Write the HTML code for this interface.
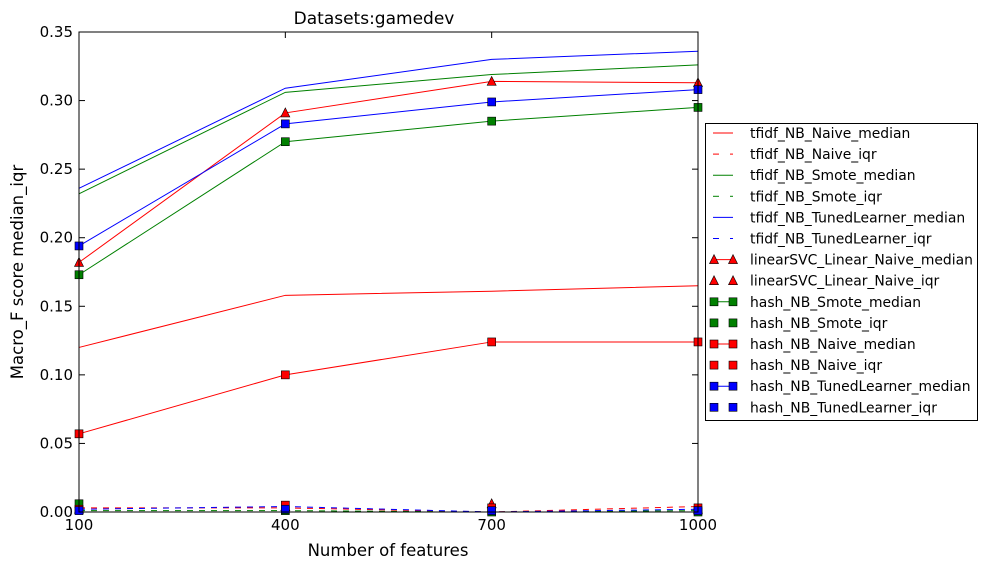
<!DOCTYPE html>
<html><head><meta charset="utf-8"><style>
body{margin:0;background:#fff;}
svg{display:block;font-family:"DejaVu Sans","Liberation Sans",sans-serif;}
</style></head><body>
<svg id="chart" width="988" height="570"></svg>
<script>
const categories=[100,400,700,1000];
const tfidfNaiveMed=[0.120,0.158,0.161,0.165];
const tfidfNaiveIqr=[0.003,0.003,0.000,0.004];
const tfidfSmoteMed=[0.232,0.306,0.319,0.326];
const tfidfSmoteIqr=[0.001,0.001,0.000,0.001];
const tfidfTunedMed=[0.236,0.309,0.330,0.336];
const tfidfTunedIqr=[0.002,0.004,0.000,0.002];
const svcNaiveMed=[0.182,0.291,0.314,0.313];
const svcNaiveIqr=[0.002,0.004,0.006,0.002];
const hashSmoteMed=[0.173,0.270,0.285,0.295];
const hashSmoteIqr=[0.006,0.001,0.000,0.000];
const hashNaiveMed=[0.057,0.100,0.124,0.124];
const hashNaiveIqr=[0.002,0.005,0.003,0.003];
const hashTunedMed=[0.194,0.283,0.299,0.308];
const hashTunedIqr=[0.001,0.002,0.001,0.001];
const yTicks=[0,0.05,0.10,0.15,0.20,0.25,0.30,0.35];
const yTickLabels=["0.00","0.05","0.10","0.15","0.20","0.25","0.30","0.35"];

const NS="http://www.w3.org/2000/svg";
const svg=document.getElementById('chart');
const L=79,R=698,T=32,B=512;
const xs=v=>L+(v-100)/900*(R-L);
const ys=v=>B-v/0.35*(B-T);
function mk(tag,attrs,parent){const e=document.createElementNS(NS,tag);for(const k in attrs)e.setAttribute(k,attrs[k]);(parent||svg).appendChild(e);return e;}

const series=[
 {name:"tfidf_NB_Naive_median",d:tfidfNaiveMed,c:"#ff0000",ls:"solid",m:null},
 {name:"tfidf_NB_Naive_iqr",d:tfidfNaiveIqr,c:"#ff0000",ls:"dash",m:null},
 {name:"tfidf_NB_Smote_median",d:tfidfSmoteMed,c:"#008000",ls:"solid",m:null},
 {name:"tfidf_NB_Smote_iqr",d:tfidfSmoteIqr,c:"#008000",ls:"dash",m:null},
 {name:"tfidf_NB_TunedLearner_median",d:tfidfTunedMed,c:"#0000ff",ls:"solid",m:null},
 {name:"tfidf_NB_TunedLearner_iqr",d:tfidfTunedIqr,c:"#0000ff",ls:"dash",m:null},
 {name:"linearSVC_Linear_Naive_median",d:svcNaiveMed,c:"#ff0000",ls:"solid",m:"tri"},
 {name:"linearSVC_Linear_Naive_iqr",d:svcNaiveIqr,c:"#ff0000",ls:"none",m:"tri"},
 {name:"hash_NB_Smote_median",d:hashSmoteMed,c:"#008000",ls:"solid",m:"sq"},
 {name:"hash_NB_Smote_iqr",d:hashSmoteIqr,c:"#008000",ls:"none",m:"sq"},
 {name:"hash_NB_Naive_median",d:hashNaiveMed,c:"#ff0000",ls:"solid",m:"sq"},
 {name:"hash_NB_Naive_iqr",d:hashNaiveIqr,c:"#ff0000",ls:"none",m:"sq"},
 {name:"hash_NB_TunedLearner_median",d:hashTunedMed,c:"#0000ff",ls:"solid",m:"sq"},
 {name:"hash_NB_TunedLearner_iqr",d:hashTunedIqr,c:"#0000ff",ls:"none",m:"sq"}
];
function marker(type,x,y,c,g){
  if(type==="tri"){return mk('polygon',{points:`${x},${y-5} ${x-4.5},${y+4} ${x+4.5},${y+4}`,fill:c,stroke:"#000","stroke-width":0.6},g);}
  if(type==="sq"){return mk('rect',{x:x-4,y:y-4,width:8,height:8,fill:c,stroke:"#000","stroke-width":0.6},g);}
}
const clip=mk('clipPath',{id:'pc'});mk('rect',{x:L-6,y:T-6,width:R-L+12,height:B-T+12},clip);

yTicks.forEach((v,i)=>{
  const y=ys(v);
  const t=mk('line',{x1:L,x2:L+6,y1:y,y2:y,stroke:"#000"});
  
  mk('line',{x1:R,x2:R-6,y1:y,y2:y,stroke:"#000"});
  const tx=mk('text',{x:L-6,y:y+5,"text-anchor":"end","font-size":15});tx.textContent=yTickLabels[i];
  
});
categories.forEach(c=>{
  const x=xs(c);
  mk('line',{x1:x,x2:x,y1:B,y2:B-6,stroke:"#000"});
  mk('line',{x1:x,x2:x,y1:T,y2:T+6,stroke:"#000"});
  const tx=mk('text',{x:x,y:B+18,"text-anchor":"middle","font-size":15});tx.textContent=c;
  
});
series.forEach(s=>{
  const g=mk('g',{"clip-path":"url(#pc)"});
  
  
  if(s.ls!=="none"){
    const pts=s.d.map((v,i)=>xs(categories[i])+","+ys(v)).join(" ");
    const a={points:pts,fill:"none",stroke:s.c,"stroke-width":1};
    if(s.ls==="dash")a["stroke-dasharray"]="6,6";
    mk('polyline',a,g);
  }
  if(s.m)s.d.forEach((v,i)=>marker(s.m,xs(categories[i]),ys(v),s.c,g));
});
const frame=mk('rect',{x:L,y:T,width:R-L,height:B-T,fill:"none",stroke:"#000","stroke-width":1});

let t=mk('text',{x:374,y:24,"text-anchor":"middle","font-size":17});t.textContent="Datasets:gamedev";

t=mk('text',{x:388,y:556,"text-anchor":"middle","font-size":16.5});t.textContent="Number of features";

t=mk('text',{x:0,y:0,"text-anchor":"middle","font-size":16.5,transform:"translate(23,272) rotate(-90)"});t.textContent="Macro_F score median_iqr";

const lg=mk('g',{});

mk('rect',{x:705.5,y:123.5,width:272,height:297,fill:"#fff",stroke:"#000"},lg);
series.forEach((s,i)=>{
  const y=133+i*21.1;
  const eg=mk('g',{},lg);
  
  if(s.ls==="solid")mk('line',{x1:713,x2:733,y1:y,y2:y,stroke:s.c},eg);
  if(s.ls==="dash"){mk('line',{x1:713,x2:719,y1:y,y2:y,stroke:s.c},eg);mk('line',{x1:730,x2:733,y1:y,y2:y,stroke:s.c},eg);}
  if(s.m){marker(s.m,714,y,s.c,eg);marker(s.m,733,y,s.c,eg);}
  const tx=mk('text',{x:750,y:y+5,"font-size":13.9},eg);tx.textContent=s.name;
});
</script>
</body></html>
